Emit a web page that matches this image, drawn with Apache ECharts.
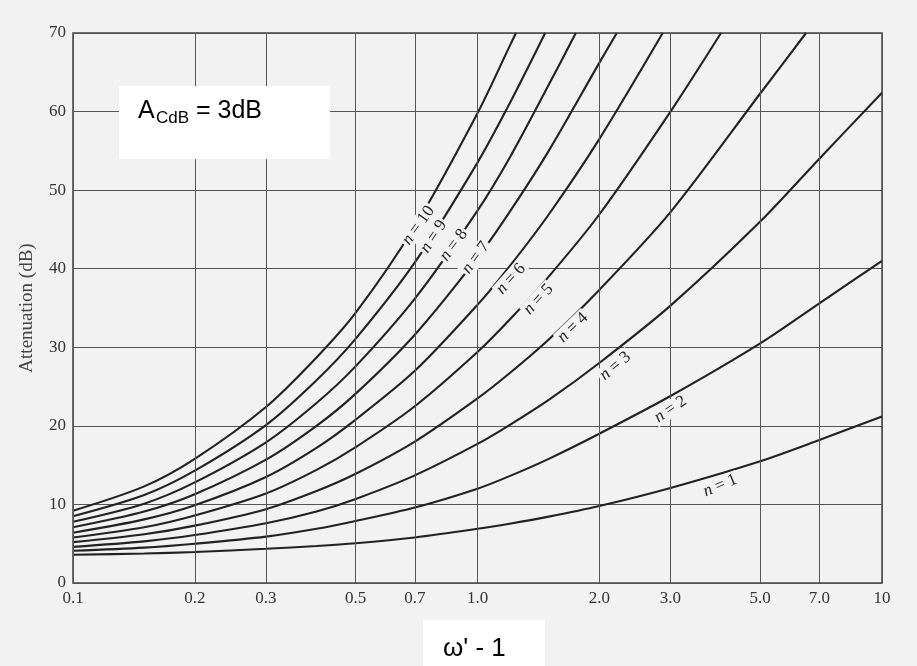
<!DOCTYPE html>
<html><head><meta charset="utf-8">
<script src="https://cdn.jsdelivr.net/npm/echarts@6/dist/echarts.min.js"></script>
<style>html,body{margin:0;padding:0;background:#f2f2f2}#c{width:917px;height:666px}</style>
</head><body><div id="c"></div>
<script>
// x positions (omega' - 1) where the curves were read
const xs = [0.1, 0.15, 0.2, 0.3, 0.4, 0.5, 0.7, 1.0, 1.2, 1.5, 2.0, 3.0, 5.0, 7.0, 10];
// attenuation (dB) read for each order n
const n1  = [3.6, 3.75, 3.95, 4.35, 4.7, 5.05, 5.8, 6.9, 7.55, 8.45, 9.8, 12.1, 15.5, 18.2, 21.2];
const n2  = [4.1, 4.5, 5.0, 5.9, 6.9, 7.9, 9.6, 12.0, 13.6, 15.8, 19.0, 23.8, 30.5, 35.6, 41.0];
const n3  = [4.6, 5.3, 6.1, 7.6, 9.1, 10.7, 13.7, 17.7, 20.1, 23.3, 28.0, 35.3, 46.0, 54.0, 62.4];
const n4  = [5.2, 6.2, 7.3, 9.4, 11.7, 13.9, 18.0, 23.5, 26.7, 31.0, 37.3, 47.2, 62.3];
const n5  = [5.8, 7.1, 8.6, 11.4, 14.4, 17.3, 22.5, 29.4, 33.5, 39.0, 46.9, 60.0];
const n6  = [6.4, 8.1, 9.9, 13.5, 17.2, 20.8, 27.0, 35.4, 40.3, 46.9, 56.5];
const n7  = [7.1, 9.1, 11.3, 15.7, 20.0, 24.1, 31.6, 41.4, 47.2, 55.0, 66.2];
const n8  = [7.8, 10.1, 12.8, 17.9, 22.9, 27.6, 36.2, 47.4, 54.1, 63.4];
const n9  = [8.5, 11.2, 14.3, 20.1, 25.8, 31.1, 40.8, 53.5, 61.0];
const n10 = [9.2, 12.3, 15.8, 22.4, 28.7, 34.4, 45.4, 59.8, 68.3];
// x where curves n=1..10 reach the 70 dB top edge (null = never)
const endX = [null, null, null, 6.49, 4.0, 2.87, 2.21, 1.75, 1.47, 1.245];
const topDb = 70;
// axis ticks
const xTicks = [0.1, 0.2, 0.3, 0.5, 0.7, 1, 2, 3, 5, 7, 10];
const xTickLabels = ['0.1', '0.2', '0.3', '0.5', '0.7', '1.0', '2.0', '3.0', '5.0', '7.0', '10'];
// curve label anchors (data coords) for n = 1..10
const labelNames = ['1','2','3','4','5','6','7','8','9','10'];
const labelX = [3.98, 3.0, 2.19, 1.72, 1.415, 1.21, 0.99, 0.873, 0.779, 0.714];
const labelY = [12.4, 22.1, 27.6, 32.5, 36.1, 38.7, 41.4, 43.0, 44.1, 45.5];
const labelAngle = [23, 34, 40, 44, 47, 48, 54, 53, 57, 54];

const curves = [n1, n2, n3, n4, n5, n6, n7, n8, n9, n10];
const serif = 'Liberation Serif';
const sans = 'Liberation Sans';
const bg = '#f2f2f2';

const series = [];
// vertical grid lines + x tick labels
series.push({
  type: 'line', data: [[1, 0]], symbol: 'none', lineStyle: {opacity: 0}, silent: true, z: 1,
  markLine: {
    silent: true, animation: false, symbol: ['none', 'none'],
    lineStyle: {color: '#555', width: 1, type: 'solid'},
    label: {show: true, position: 'start', formatter: '{b}', distance: 7,
            fontFamily: serif, fontSize: 17, color: '#333'},
    emphasis: {disabled: true},
    data: xTicks.map((t, i) => ({xAxis: t, name: xTickLabels[i]}))
  }
});
curves.forEach((vals, i) => {
  const data = [];
  vals.forEach((v, j) => { if (v != null) data.push([xs[j], v]); });
  if (endX[i] != null) data.push([endX[i], topDb]);
  series.push({
    type: 'line', data, smooth: 0.3, symbol: 'none', silent: true, z: 3,
    lineStyle: {color: '#222', width: 2.1}
  });
});
series.push({
  type: 'scatter', symbolSize: 1, itemStyle: {opacity: 0}, silent: true, z: 10,
  data: labelNames.map((nm, i) => ({
    value: [labelX[i], labelY[i]],
    label: {rotate: labelAngle[i], formatter: '{i|n} = ' + nm}
  })),
  label: {show: true, position: 'inside', fontFamily: serif, fontSize: 17, color: '#222',
          opacity: 1, backgroundColor: bg, padding: [0, 2],
          rich: {i: {fontStyle: 'italic', fontFamily: serif, fontSize: 17, color: '#222'}}}
});

const chart = echarts.init(document.getElementById('c'), null, {renderer: 'canvas'});
chart.setOption({
  backgroundColor: bg,
  animation: false,
  grid: {left: 73, right: 35, top: 33, bottom: 83, show: true, borderColor: '#444', borderWidth: 1.5, backgroundColor: 'transparent'},
  xAxis: {type: 'log', logBase: 10, min: 0.1, max: 10,
          axisLabel: {show: false}, axisTick: {show: false}, axisLine: {show: false},
          splitLine: {show: false}, minorSplitLine: {show: false}},
  yAxis: {type: 'value', min: 0, max: 70, interval: 10,
          name: 'Attenuation (dB)', nameLocation: 'middle', nameGap: 36,
          nameTextStyle: {fontFamily: serif, fontSize: 19, color: '#444'},
          axisLabel: {fontFamily: serif, fontSize: 17, color: '#333', margin: 7},
          axisTick: {show: false}, axisLine: {show: false},
          splitLine: {show: true, lineStyle: {color: '#555', width: 1}}},
  series,
  graphic: [
    {type: 'rect', shape: {x: 119, y: 86, width: 211, height: 73}, style: {fill: '#fff'}, z: 100},
    {type: 'text', x: 138, y: 111, style: {text: 'A', fontFamily: sans, fontSize: 25, fill: '#000', verticalAlign: 'middle'}, z: 101},
    {type: 'text', x: 156, y: 118, style: {text: 'CdB', fontFamily: sans, fontSize: 17, fill: '#000', verticalAlign: 'middle'}, z: 101},
    {type: 'text', x: 189, y: 111, style: {text: ' = 3dB', fontFamily: sans, fontSize: 25, fill: '#000', verticalAlign: 'middle'}, z: 101},
    {type: 'rect', shape: {x: 423, y: 620, width: 122, height: 46}, style: {fill: '#fff'}, z: 100},
    {type: 'text', x: 443, y: 649, style: {text: "ω' - 1", fontFamily: sans, fontSize: 26, fill: '#000', verticalAlign: 'middle'}, z: 101}
  ]
});
</script></body></html>
